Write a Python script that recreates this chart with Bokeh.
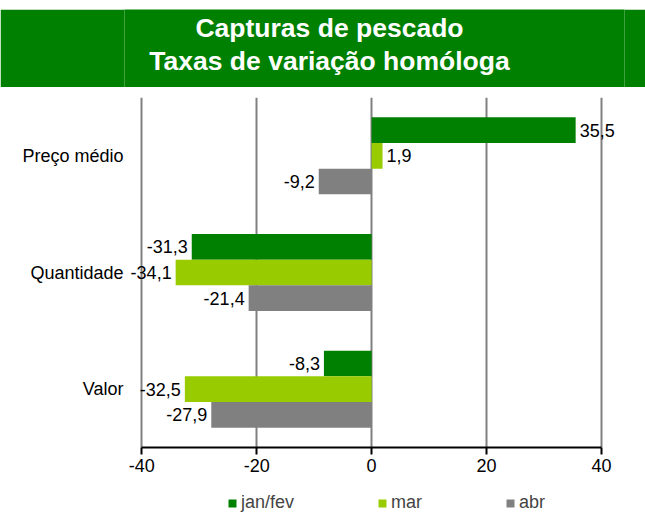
from bokeh.plotting import figure
from bokeh.models import (ColumnDataSource, FactorRange, Range1d, FixedTicker,
                          Legend, LegendItem, LabelSet, LinearAxis, Spacer)
from bokeh.transform import dodge
from bokeh.layouts import column
from bokeh.embed import file_html
from bokeh.resources import INLINE
from bokeh.core.properties import value

# ---- data ----
title_lines = ["Capturas de pescado", "Taxas de variação homóloga"]
categories = ["Preço médio", "Quantidade", "Valor"]
series_names = ["jan/fev", "mar", "abr"]
jan_fev = [35.5, -31.3, -8.3]
mar = [1.9, -34.1, -32.5]
abr = [-9.2, -21.4, -27.9]
x_ticks = [-40, -20, 0, 20, 40]
x_tick_labels = ["-40", "-20", "0", "20", "40"]
unit_label = "%"

series_values = [jan_fev, mar, abr]
colors = ["#008000", "#99CC00", "#808080"]
offsets = [0.22, 0.0, -0.22]
FONT = "Liberation Sans"
W = 645
BL, BR = 124, 21   # frame borders shared by every strip of the column

# ---- title banner ----
t = figure(width=W, height=78, x_range=Range1d(BL, W - BR), y_range=Range1d(0, 78),
           output_backend="svg", toolbar_location=None,
           min_border_left=BL, min_border_right=BR, min_border_top=0,
           min_border_bottom=0, x_axis_location=None, y_axis_location=None)
t.grid.visible = False
t.outline_line_color = None
t.background_fill_color = "#008000"
t.border_fill_color = "#008000"
t.text(x=[329, 329], y=[60, 27], text=title_lines, text_color="white",
       text_font=value(FONT), text_font_style="bold", text_font_size="26.5px",
       text_align="center", text_baseline="middle")

# ---- main chart ----
p = figure(width=W, height=398, x_range=Range1d(-43, 44),
           y_range=FactorRange(factors=categories[::-1]),
           output_backend="svg", toolbar_location=None,
           min_border_left=BL, min_border_right=BR, min_border_top=10,
           min_border_bottom=38)
p.outline_line_color = None
p.ygrid.visible = False
p.xgrid.ticker = FixedTicker(ticks=x_ticks)
p.xgrid.grid_line_color = "#808080"
p.xgrid.grid_line_width = 2

xa = p.xaxis[0]
xa.ticker = FixedTicker(ticks=x_ticks)
xa.bounds = (-40, 40)
xa.major_label_overrides = {tk: lb for tk, lb in zip(x_ticks, x_tick_labels)}
xa.axis_line_color = "black"
xa.axis_line_width = 2
xa.major_tick_line_color = "black"
xa.major_tick_line_width = 2
xa.major_tick_out = 7
xa.major_tick_in = 0
xa.minor_tick_line_color = None
xa.major_label_standoff = 4
xa.major_label_text_font = FONT
xa.major_label_text_font_size = "18px"
xa.major_label_text_color = "black"

# unit label "%" drawn by a second, line-less axis in the same row as the ticks
pa = LinearAxis(ticker=FixedTicker(ticks=[-47]), bounds=(-48, -46), fixed_location=0,
                major_label_overrides={-47: unit_label}, axis_line_color=None,
                major_tick_line_color=None, minor_tick_line_color=None,
                major_tick_out=7, major_tick_in=0, major_label_standoff=4,
                major_label_text_font=FONT, major_label_text_font_size="18px",
                major_label_text_color="black")
p.add_layout(pa, "below")

ya = p.yaxis[0]
ya.axis_line_color = None
ya.major_tick_line_color = None
ya.minor_tick_line_color = None
ya.major_tick_out = 0
ya.major_label_standoff = 1
ya.major_label_text_font = FONT
ya.major_label_text_font_size = "18px"
ya.major_label_text_color = "black"

for name, vals, col, off in zip(series_names, series_values, colors, offsets):
    src = ColumnDataSource(dict(cat=categories, val=vals))
    p.hbar(y=dodge("cat", off, range=p.y_range), left=0, right="val",
           height=0.22, source=src, fill_color=col, line_color=None)
    pos = [(c, v) for c, v in zip(categories, vals) if v >= 0]
    neg = [(c, v) for c, v in zip(categories, vals) if v < 0]
    for grp, align, xo in ((pos, "left", 4), (neg, "right", -4)):
        if not grp:
            continue
        lsrc = ColumnDataSource(dict(cat=[g[0] for g in grp], val=[g[1] for g in grp],
                                     lab=[f"{g[1]:.1f}".replace(".", ",") for g in grp]))
        p.add_layout(LabelSet(x="val", y=dodge("cat", off, range=p.y_range), text="lab",
                              source=lsrc, x_offset=xo, text_align=align,
                              text_baseline="middle", text_font=value(FONT),
                              text_font_size="18px", text_color="black"))

# ---- legend strip ----
lg = figure(width=W, height=28, x_range=Range1d(BL, W - BR), y_range=Range1d(0, 28),
            output_backend="svg", toolbar_location=None,
            min_border_left=BL, min_border_right=BR, min_border_top=0,
            min_border_bottom=0, x_axis_location=None, y_axis_location=None)
lg.grid.visible = False
lg.outline_line_color = None
items = []
for name, col in zip(series_names, colors):
    # legend proxy, kept outside the visible range
    r = lg.hbar(y=[-1000], left=[0], right=[1], height=1, fill_color=col, line_color=None)
    items.append(LegendItem(label=name, renderers=[r]))
legend = Legend(items=items, orientation="horizontal", location=(103, 0),
                spacing=83, glyph_width=10, glyph_height=10, label_standoff=4,
                label_text_font=FONT, label_text_font_size="18px",
                border_line_color=None, background_fill_alpha=0,
                padding=2, margin=0, label_height=18)
lg.add_layout(legend)

layout = column(Spacer(width=W, height=9), t, p, lg, spacing=0)
open("out.html", "w").write(file_html(layout, INLINE))
